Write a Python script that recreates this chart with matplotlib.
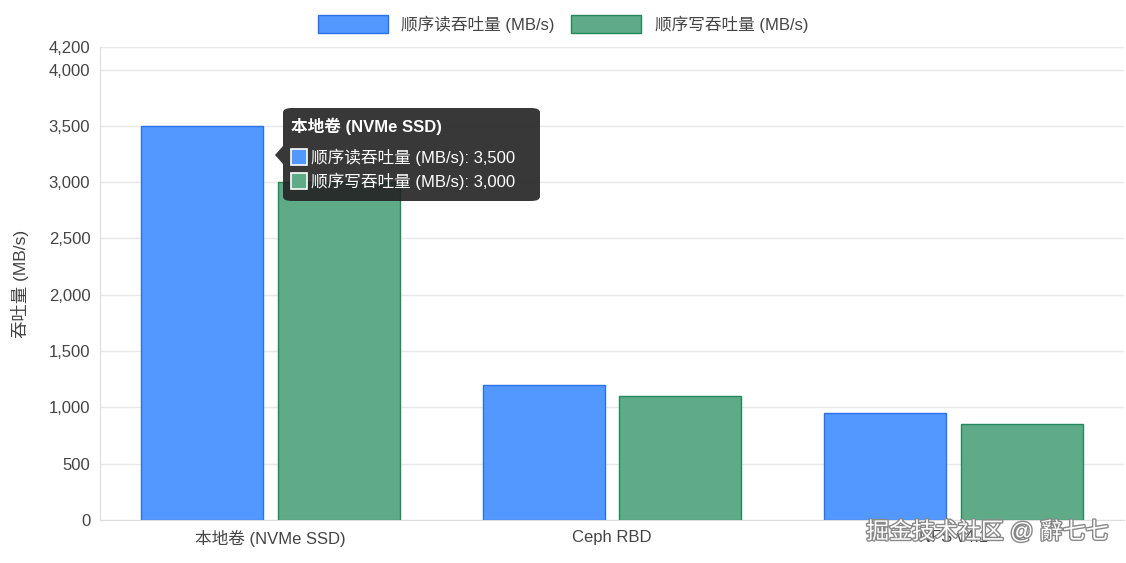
import matplotlib
matplotlib.use("Agg")
import matplotlib.pyplot as plt
import numpy as np
from matplotlib.patches import FancyBboxPatch, Polygon
import matplotlib.patheffects as pe

plt.rcParams['font.family'] = ['Liberation Sans', 'Noto Sans CJK SC', 'DejaVu Sans']

categories = ['本地卷 (NVMe SSD)', 'Ceph RBD', 'NFS v4.1']
read_mbps = [3500, 1200, 950]
write_mbps = [3000, 1100, 850]
read_label = '顺序读吞吐量 (MB/s)'
write_label = '顺序写吞吐量 (MB/s)'

blue, blue_edge = '#5298ff', '#2a72e8'
green, green_edge = '#5fab87', '#23895a'

fig = plt.figure(figsize=(11.26, 5.63), dpi=100)
ax = fig.add_axes([100 / 1126, 43 / 563, 1024 / 1126, 473 / 563])

x = np.arange(len(categories))
w = 0.357
ax.bar(x - 0.2, read_mbps, w, color=blue, edgecolor=blue_edge, linewidth=1, label=read_label, zorder=2)
ax.bar(x + 0.2, write_mbps, w, color=green, edgecolor=green_edge, linewidth=1, label=write_label, zorder=2)

ax.set_xlim(-0.5, 2.5)
ax.set_ylim(0, 4200)
ticks = [0, 500, 1000, 1500, 2000, 2500, 3000, 3500, 4000, 4200]
ax.set_yticks(ticks)
ax.set_yticklabels([f'{t:,}' for t in ticks], fontsize=12, color='#444444')
ax.set_xticks(x)
ax.set_xticklabels(categories, fontsize=12, color='#444444')
ax.tick_params(length=0, pad=7)
ax.grid(axis='y', color='#e8e8e8', linewidth=1, zorder=0)
for s in ['top', 'right']:
    ax.spines[s].set_visible(False)
for s in ['left', 'bottom']:
    ax.spines[s].set_color('#dddddd')
ax.set_ylabel('吞吐量 (MB/s)', fontsize=12.5, color='#444444', labelpad=14)

leg = fig.legend(loc='upper center', bbox_to_anchor=(0.5, 1.0), ncol=2, frameon=False,
                 fontsize=12, handlelength=4.2, handleheight=1.3, columnspacing=1.0)
for t in leg.get_texts():
    t.set_color('#444444')

# tooltip
box = FancyBboxPatch((283 / 1126, 1 - 201 / 563), 257 / 1126, 93 / 563,
                     boxstyle='round,pad=0,rounding_size=0.008', transform=fig.transFigure,
                     facecolor='#222222', alpha=0.9, edgecolor='none', zorder=10)
fig.patches.append(box)
fig.patches.append(Polygon([(283 / 1126, 1 - 146 / 563), (275 / 1126, 1 - 155 / 563), (283 / 1126, 1 - 164 / 563)],
                           closed=True, transform=fig.transFigure, facecolor='#222222', alpha=0.9, edgecolor='none'))
fig.text(291 / 1126, 1 - 126 / 563, '本地卷 (NVMe SSD)', fontsize=12, weight='bold', color='white', va='center', zorder=11)
for i, (lab, val, c) in enumerate([(read_label, read_mbps[0], blue), (write_label, write_mbps[0], green)]):
    yy = 1 - (157 + 24 * i) / 563
    fig.patches.append(FancyBboxPatch((291 / 1126, yy - 8 / 563), 16 / 1126, 16 / 563, boxstyle='square,pad=0',
                                      transform=fig.transFigure, facecolor=c, edgecolor='white', linewidth=1.2, zorder=11))
    fig.text(311 / 1126, yy, f'{lab}: {val:,}', fontsize=12, color='white', va='center', zorder=11)

fig.text(1108 / 1126, 1 - 532 / 563, '掘金技术社区 @ 辭七七', fontsize=16.5, color='white', ha='right', va='center',
         path_effects=[pe.withStroke(linewidth=2, foreground='#888888')])

fig.savefig('out.png', dpi=100)
